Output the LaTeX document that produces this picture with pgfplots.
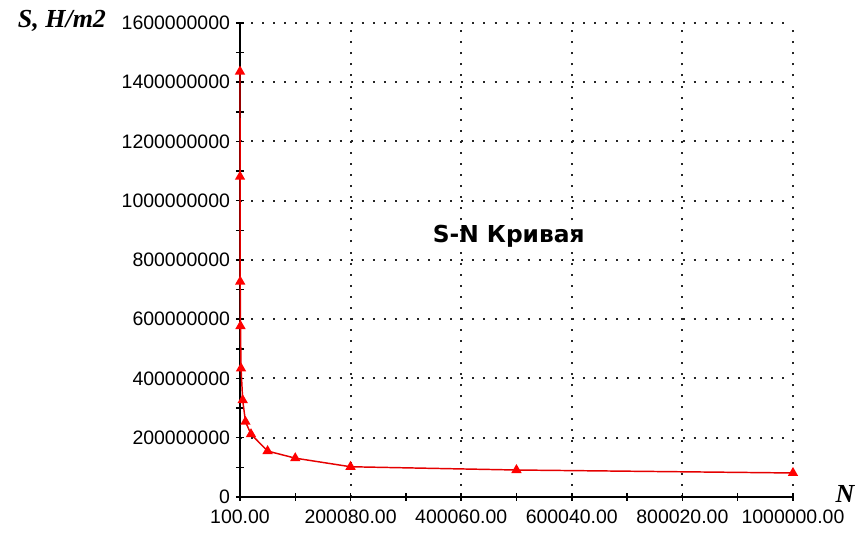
\documentclass[border=0pt]{standalone}
\usepackage{pgfplots}
\pgfplotsset{compat=1.18}
\usepackage{fontspec}
\setmainfont{Liberation Sans}
\newfontfamily\seriffont{Liberation Serif}
\newfontfamily\titlefont{DejaVu Sans}
\begin{document}
\begin{tikzpicture}
\begin{axis}[
  scale only axis,
  width=414.75pt, height=355.5pt,
  xmin=100, xmax=1000000,
  ymin=0, ymax=1600000000,
  axis lines=left,
  axis line style={-, line width=1.1pt, black},
  clip=false,
  xtick={100,200080,400060,600040,800020,1000000},
  xticklabels={100.00,200080.00,400060.00,600040.00,800020.00,1000000.00},
  ytick={0,200000000,400000000,600000000,800000000,1000000000,1200000000,1400000000,1600000000},
  yticklabels={0,200000000,400000000,600000000,800000000,1000000000,1200000000,1400000000,1600000000},
  minor tick num=1,
  tick align=center,
  major tick length=6pt,
  minor tick length=6pt,
  tick style={black, line width=1.1pt},
  scaled ticks=false,
  xmajorgrids, ymajorgrids,
  grid style={black!85, line width=1.5pt, dash pattern=on 1.5pt off 6.8pt},
  tick label style={font=\fontsize{14.6}{17}\selectfont},
  /pgf/number format/assume math mode=true,
  xticklabel style={yshift=-3pt},
  yticklabel style={xshift=-1pt},
]
\addplot[red!90!black, line width=1.1pt, mark=triangle*, mark size=3.4pt,
  mark options={red, solid}] coordinates {
  (100,1436000000) (200,1081000000) (500,727000000) (1000,577000000)
  (2000,434000000) (5000,327000000) (10000,254000000) (20000,212000000)
  (50000,155000000) (100000,131000000) (200000,102000000)
  (500000,91000000) (1000000,81000000)
};
\node[font=\titlefont\fontsize{17.5}{20}\selectfont\bfseries] at (axis cs:486000,880000000) {S-N Кривая};
\node[font=\seriffont\fontsize{19.5}{22}\selectfont\bfseries\itshape, anchor=base] at (rel axis cs:-0.322,0.990) {S, H/m2};
\node[font=\seriffont\fontsize{19.5}{22}\selectfont\bfseries\itshape, anchor=base] at (rel axis cs:1.094,-0.012) {N};
\coordinate (bl) at (rel axis cs:-0.434,-0.0844);
\coordinate (tr) at (rel axis cs:1.1212,1.0485);
\end{axis}
\pgfresetboundingbox
\path[use as bounding box] (bl) rectangle (tr);
\end{tikzpicture}
\end{document}
